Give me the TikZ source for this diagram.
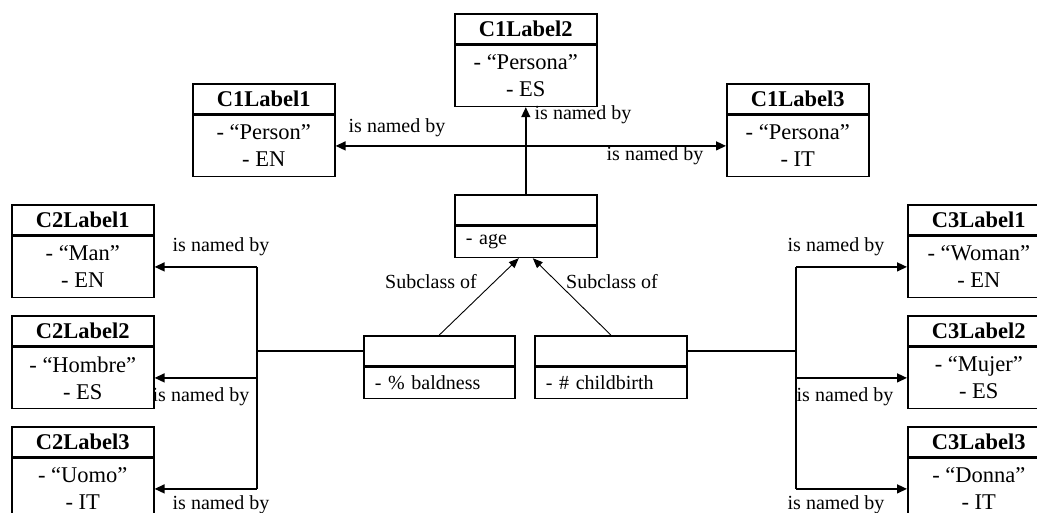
\documentclass[tikz,border=0pt]{standalone}
\usepackage{fontspec}
\setmainfont{Liberation Serif}
\usetikzlibrary{arrows.meta}
\begin{document}
\begin{tikzpicture}[x=1pt,y=-1pt,
  hdr/.style={draw, line width=1.6pt, minimum width=142pt, minimum height=30pt, inner sep=0pt, anchor=north west, font=\fontsize{22.5}{27}\selectfont\bfseries},
  bdy/.style={draw, line width=1.6pt, minimum width=142pt, minimum height=61pt, inner sep=0pt, anchor=north, align=center, font=\fontsize{22.5}{27}\selectfont},
  ahdr/.style={draw, line width=1.6pt, minimum height=30pt, inner sep=0pt, anchor=north west},
  abdy/.style={draw, line width=1.6pt, minimum height=31pt, inner ysep=0pt, inner xsep=11pt, anchor=north, align=left, font=\fontsize{20}{24}\selectfont},
  lbl/.style={inner sep=0pt, font=\fontsize{20}{24}\selectfont},
  conn/.style={line width=1.4pt},
  arr/.style={conn, -{Triangle[length=10pt,width=9pt]}},
  sub/.style={line width=0.9pt, -{Triangle[length=10pt,width=8pt]}}
]
\useasboundingbox (0,0) rectangle (1037,512);

% C1 labels
\node[hdr] (c1l1h) at (192,83) {C1Label1};
\node[bdy] (c1l1) at (c1l1h.south) {- “Person”\\- EN};
\node[hdr] (c1l2h) at (454,13) {C1Label2};
\node[bdy] (c1l2) at (c1l2h.south) {- “Persona”\\- ES};
\node[hdr] (c1l3h) at (726,83) {C1Label3};
\node[bdy] (c1l3) at (c1l3h.south) {- “Persona”\\- IT};

% C2 labels
\node[hdr] (c2l1h) at (11,204) {C2Label1};
\node[bdy] (c2l1) at (c2l1h.south) {- “Man”\\- EN};
\node[hdr] (c2l2h) at (11,315) {C2Label2};
\node[bdy] (c2l2) at (c2l2h.south) {- “Hombre”\\- ES};
\node[hdr] (c2l3h) at (11,426) {C2Label3};
\node[bdy] (c2l3) at (c2l3h.south) {- “Uomo”\\- IT};

% C3 labels
\node[hdr] (c3l1h) at (907,204) {C3Label1};
\node[bdy] (c3l1) at (c3l1h.south) {- “Woman”\\- EN};
\node[hdr] (c3l2h) at (907,315) {C3Label2};
\node[bdy] (c3l2) at (c3l2h.south) {- “Mujer”\\- ES};
\node[hdr] (c3l3h) at (907,426) {C3Label3};
\node[bdy] (c3l3) at (c3l3h.south) {- “Donna”\\- IT};

% classes
\node[ahdr, minimum width=142pt] (ageh) at (454,194) {};
\node[abdy, text width=120pt] (age) at (ageh.south) {- age};
\node[ahdr, minimum width=151pt] (baldh) at (363,335) {};
\node[abdy, text width=129pt] (bald) at (baldh.south) {- \% baldness};
\node[ahdr, minimum width=152pt] (childh) at (534,335) {};
\node[abdy, text width=130pt] (child) at (childh.south) {- \# childbirth};

% C1 connectors
\coordinate (hub) at (c1l2.south |- c1l1.east);
\draw[arr] (c1l2.south |- ageh.north) -- (c1l2.south);
\draw[arr] (hub) -- (c1l1.east);
\draw[arr] (hub) -- (c1l3.west);

% left bus
\coordinate (lb) at (257,0);
\draw[conn] (baldh.west) -- (baldh.west -| lb);
\draw[conn] (lb |- c2l1.east) -- (lb |- c2l3.east);
\draw[arr] (lb |- c2l1.east) -- (c2l1.east);
\draw[arr] (lb |- c2l2.east) -- (c2l2.east);
\draw[arr] (lb |- c2l3.east) -- (c2l3.east);

% right bus
\coordinate (rb) at (796,0);
\draw[conn] (childh.east) -- (childh.east -| rb);
\draw[conn] (rb |- c3l1.west) -- (rb |- c3l3.west);
\draw[arr] (rb |- c3l1.west) -- (c3l1.west);
\draw[arr] (rb |- c3l2.west) -- (c3l2.west);
\draw[arr] (rb |- c3l3.west) -- (c3l3.west);

% subclass
\draw[sub] (baldh.north) -- ([xshift=-7pt]age.south);
\draw[sub] (childh.north) -- ([xshift=7pt]age.south);

% labels
\node[lbl] (n1) at (397,128) {is named by};
\node[lbl] (n2) at (583,115) {is named by};
\node[lbl] (n3) at (655,156) {is named by};
\node[lbl] (n4) at (221,247) {is named by};
\node[lbl] (n5) at (201,397) {is named by};
\node[lbl] (n6) at (221,505) {is named by};
\node[lbl] (n7) at (836,247) {is named by};
\node[lbl] (n8) at (845,397) {is named by};
\node[lbl] (n9) at (836,505) {is named by};
\node[lbl] (s1) at (431,282) {Subclass of};
\node[lbl] (s2) at (612,282) {Subclass of};
\end{tikzpicture}
\end{document}
